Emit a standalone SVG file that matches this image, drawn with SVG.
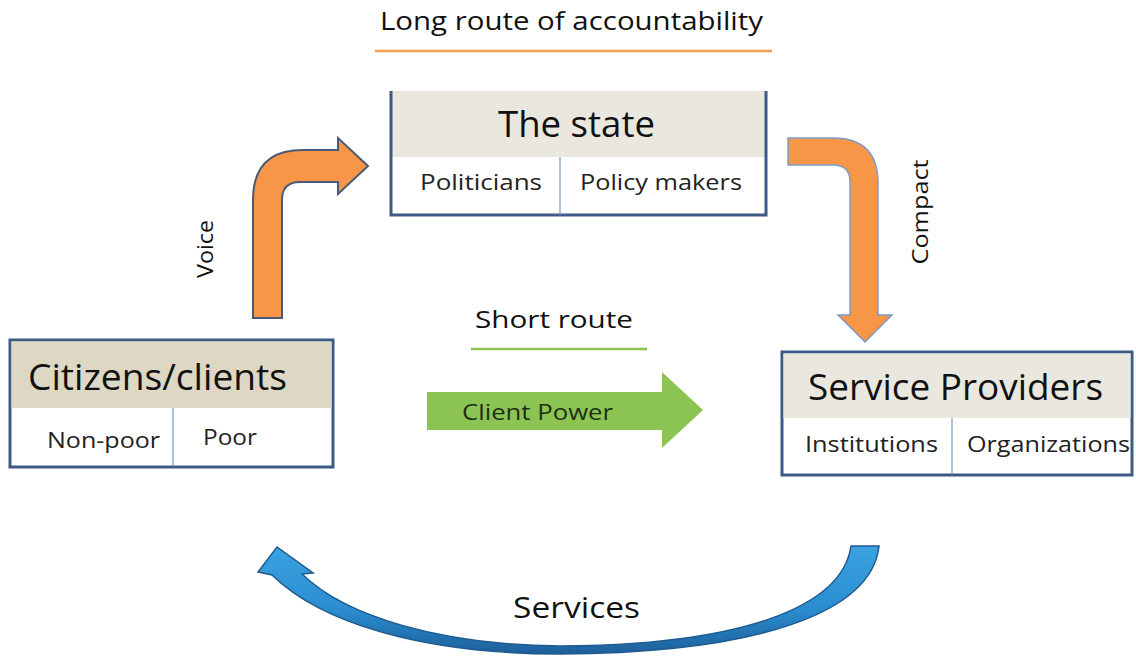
<svg xmlns="http://www.w3.org/2000/svg" width="1136" height="656" viewBox="0 0 1136 656">
<defs>
<linearGradient id="blueArc" x1="0" y1="0" x2="0" y2="1">
<stop offset="0" stop-color="#3aa3e0"/>
<stop offset="0.6" stop-color="#2a8ccf"/>
<stop offset="1" stop-color="#1d5f9a"/>
</linearGradient>
</defs>
<style>
text{font-family:"Open Sans","Noto Sans","Liberation Sans",sans-serif;fill:#111}
.box{fill:#fff;stroke:#3d5a84;stroke-width:3}
.div{stroke:#7a98c0;stroke-width:1.2}
.title{font-size:36px}
.sub{font-size:22px;fill:#222}
.lbl{font-size:22px}
</style>
<rect width="1136" height="656" fill="#fff"/>

<g id="headings">
<text x="380" y="30" font-size="25" textLength="383" lengthAdjust="spacingAndGlyphs">Long route of accountability</text>
<line x1="375" y1="51" x2="772" y2="51" stroke="#f0a050" stroke-width="2.5"/>
<text x="475" y="328" font-size="23" textLength="158" lengthAdjust="spacingAndGlyphs">Short route</text>
<line x1="471" y1="349" x2="647" y2="349" stroke="#8cc152" stroke-width="2.5"/>
</g>

<g id="connectors">
<path id="voice-arrow" d="M253,318 L253,200 Q253,150 303,150 L338,150 L338,138 L368,166 L338,194 L338,182 L300,182 Q282,182 282,200 L282,318 Z" fill="#f79646" stroke="#4a5a78" stroke-width="2"/>
<text transform="translate(213,249) rotate(-90)" text-anchor="middle" class="lbl" textLength="58" lengthAdjust="spacingAndGlyphs">Voice</text>
<path id="compact-arrow" d="M788,138 L833,138 Q878,138 878,183 L878,315 L892,315 L865,342 L838,315 L850,315 L850,182 Q850,165 833,165 L788,165 Z" fill="#f79646" stroke="#7f9cc8" stroke-width="1.5"/>
<text transform="translate(928,212) rotate(-90)" text-anchor="middle" class="lbl" textLength="105" lengthAdjust="spacingAndGlyphs">Compact</text>
<path id="client-power" d="M427,392 L662,392 L662,372 L703,410 L662,448 L662,430 L427,430 Z" fill="#8cc454"/>
<text x="462" y="420" font-size="22" style="fill:#1e2e14" textLength="151" lengthAdjust="spacingAndGlyphs">Client Power</text>
<path id="services-arrow" d="M879,546 C872,612 760,653 560,654 C420,654 320,622 272,575 L258,572 L277,547 L313,573 L302,574 C345,616 440,645 560,646 C740,645 842,608 851,546 Z" fill="url(#blueArc)" stroke="#1f5a8f" stroke-width="1.5"/>
<text x="513" y="618" font-size="29" textLength="127" lengthAdjust="spacingAndGlyphs">Services</text>
</g>

<g id="node-state">
<rect x="391" y="91" width="375" height="124" fill="#fff"/>
<rect x="391" y="91" width="375" height="66" fill="#eae7de"/>
<path d="M391,91 L391,215 L766,215 L766,91" fill="none" stroke="#3d5a84" stroke-width="3"/>
<line class="div" x1="560" y1="157" x2="560" y2="215"/>
<text x="498" y="137" class="title" textLength="157" lengthAdjust="spacingAndGlyphs">The state</text>
<text x="420" y="190" class="sub" textLength="122" lengthAdjust="spacingAndGlyphs">Politicians</text>
<text x="580" y="190" class="sub" textLength="162" lengthAdjust="spacingAndGlyphs">Policy makers</text>
</g>

<g id="node-citizens">
<rect class="box" x="10" y="340" width="323" height="127"/>
<rect x="11.5" y="341.5" width="320" height="66.5" fill="#dcd8c4"/>
<line class="div" x1="173" y1="408" x2="173" y2="466"/>
<text x="28" y="390" class="title" textLength="259" lengthAdjust="spacingAndGlyphs">Citizens/clients</text>
<text x="47" y="448" class="sub" textLength="113" lengthAdjust="spacingAndGlyphs">Non-poor</text>
<text x="203" y="445" class="sub" textLength="54" lengthAdjust="spacingAndGlyphs">Poor</text>
</g>

<g id="node-providers">
<rect class="box" x="782" y="352" width="350" height="123"/>
<rect x="783.5" y="353.5" width="347" height="64.5" fill="#eae7de"/>
<line class="div" x1="952" y1="418" x2="952" y2="474"/>
<text x="808" y="400" class="title" textLength="295" lengthAdjust="spacingAndGlyphs">Service Providers</text>
<text x="805" y="452" class="sub" textLength="133" lengthAdjust="spacingAndGlyphs">Institutions</text>
<text x="967" y="452" class="sub" textLength="163" lengthAdjust="spacingAndGlyphs">Organizations</text>
</g>
</svg>
